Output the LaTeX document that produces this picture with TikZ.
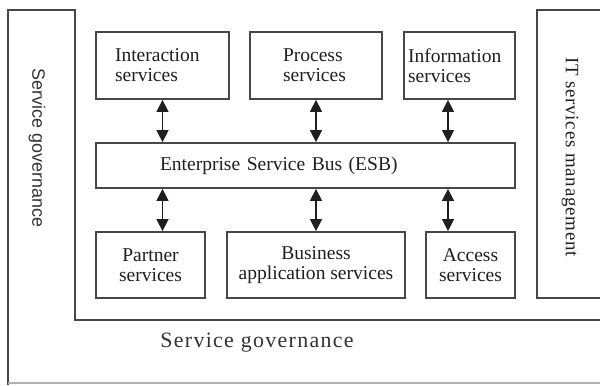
\documentclass[tikz,border=0pt]{standalone}
\usepackage{fontspec}
\setmainfont{Liberation Serif}
\newfontfamily\sgfont{Liberation Sans}
\usetikzlibrary{arrows.meta,calc}
\begin{document}
\begin{tikzpicture}[x=1bp,y=-1bp,
  frame/.style={draw=black!72, line width=1.8bp},
  svc/.style={draw=black!72, line width=1.8bp, inner sep=0pt, text=black!88,
    font=\fontsize{19.6}{20}\selectfont},
  lft/.style={align=left, inner xsep=#1},
  dbl/.style={{Triangle[width=12bp,length=12bp]}-{Triangle[width=12bp,length=12bp]}, line width=1.5bp, black!88}]
\useasboundingbox (0,0) rectangle (600,385);
\fill[white] (0,0) rectangle (600,385);
% outer governance frame
\draw[frame] (600,320) -- (75,320) -- (75,10) -- (8,10) -- (8,385);
\draw[black!30, line width=1.2bp] (8,383) -- (600,383);
% IT services management box
\draw[frame] (600,10) -- (537,10) -- (537,298) -- (600,298);
% service nodes
\node[svc, minimum width=133bp, minimum height=67bp, lft=19bp, text width=95bp] (inter) at (162.5,65.5) {Interaction\\services};
\node[svc, minimum width=132bp, minimum height=67bp, lft=33bp, text width=66bp] (proc) at (316,65.5) {Process\\services};
\node[svc, minimum width=111bp, minimum height=67bp, lft=4bp, text width=103bp] (info) at (459.5,65.5) {Information\\services};
\node[svc, minimum width=419bp, minimum height=45bp, lft=64bp, text width=291bp] (esb) at (305.5,165.5) {Enterprise Service Bus (ESB)};
\node[svc, minimum width=109bp, minimum height=66bp, align=center] (part) at (150.5,265) {Partner\\services};
\node[svc, minimum width=178bp, minimum height=66bp, align=center] (bus) at (316,265) {Business\\application services};
\node[svc, minimum width=89bp, minimum height=66bp, align=center] (acc) at (470.5,265) {Access\\services};
\coordinate (ax) at (448,0);
% arrows
\draw[dbl] (inter.south) -- (inter.south |- esb.north);
\draw[dbl] (proc.south) -- (proc.south |- esb.north);
\draw[dbl] (ax |- info.south) -- (ax |- esb.north);
\draw[dbl] (inter.south |- esb.south) -- (inter.south |- part.north);
\draw[dbl] (bus.north |- esb.south) -- (bus.north);
\draw[dbl] (ax |- esb.south) -- (ax |- acc.north);
% labels
\node[rotate=-90, text=black!80, font=\sgfont\fontsize{18}{20}\selectfont] (sgl) at (37,148) {Service governance};
\node[rotate=-90, text=black!88, font=\fontsize{19}{20}\selectfont\addfontfeature{LetterSpace=4}] (itm) at (570,157) {IT services management};
\node[text=black!80, font=\fontsize{22}{24}\selectfont\addfontfeature{LetterSpace=6}] (sgb) at (257,343) {Service governance};
\end{tikzpicture}
\end{document}
